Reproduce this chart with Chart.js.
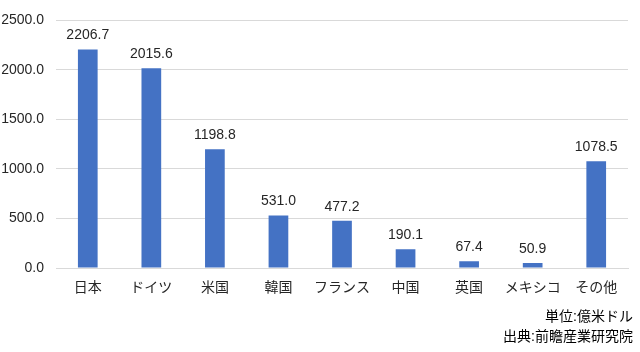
<!DOCTYPE html>
<html><head><meta charset="utf-8">
<script src="https://cdn.jsdelivr.net/npm/chart.js@4"></script>
<style>html,body{margin:0;padding:0;background:#fff}#w{width:640px;height:352px;position:relative}</style>
</head><body><div id="w"><canvas id="c" width="640" height="352"></canvas></div>
<script>
const categories = ["日本","ドイツ","米国","韓国","フランス","中国","英国","メキシコ","その他"];
const values = [2206.7, 2015.6, 1198.8, 531.0, 477.2, 190.1, 67.4, 50.9, 1078.5];
const yTicks = [0, 500, 1000, 1500, 2000, 2500];
const footerLines = ["単位:億米ドル", "出典:前瞻産業研究院"];
const FONT = "'Liberation Sans', Arial, 'Noto Sans CJK JP', sans-serif";

const labelPlugin = {
  id: 'labels',
  afterDatasetsDraw(chart) {
    const ctx = chart.ctx;
    const meta = chart.getDatasetMeta(0);
    ctx.save();
    ctx.font = "14px " + FONT;
    ctx.fillStyle = "#262626";
    ctx.textAlign = "center";
    ctx.textBaseline = "middle";
    meta.data.forEach((bar, i) => {
      ctx.fillText(values[i].toFixed(1), bar.x, bar.y - 14);
    });
    ctx.restore();
  },
  afterDraw(chart) {
    const ctx = chart.ctx;
    ctx.save();
    ctx.font = "14px " + FONT;
    ctx.fillStyle = "#000";
    ctx.textAlign = "right";
    ctx.textBaseline = "middle";
    ctx.fillText(footerLines[0], 633, 317);
    ctx.fillText(footerLines[1], 633, 337);
    ctx.restore();
  }
};

new Chart(document.getElementById('c'), {
  type: 'bar',
  data: { labels: categories, datasets: [{ data: values, backgroundColor: '#4472C4', barPercentage: 0.31, categoryPercentage: 1.0 }] },
  options: {
    responsive: false, animation: false,
    layout: { padding: { left: 0, right: 12, top: 18, bottom: 0 } },
    plugins: { legend: { display: false }, tooltip: { enabled: false } },
    scales: {
      x: {
        grid: { display: false, drawTicks: false },
        border: { display: true, color: '#d9d9d9' },
        ticks: { color: '#262626', font: { size: 14, family: FONT }, padding: 12, maxRotation: 0, autoSkip: false },
        afterFit(s) { s.height = 84; }
      },
      y: {
        min: 0, max: 2500,
        afterBuildTicks(s) { s.ticks = yTicks.map(v => ({ value: v })); },
        grid: { color: '#d9d9d9', drawTicks: false },
        border: { display: false },
        ticks: { color: '#262626', font: { size: 14, family: FONT }, padding: 12, callback: v => Number(v).toFixed(1) },
        afterFit(s) { s.width = 56; }
      }
    }
  },
  plugins: [labelPlugin]
});
</script></body></html>
